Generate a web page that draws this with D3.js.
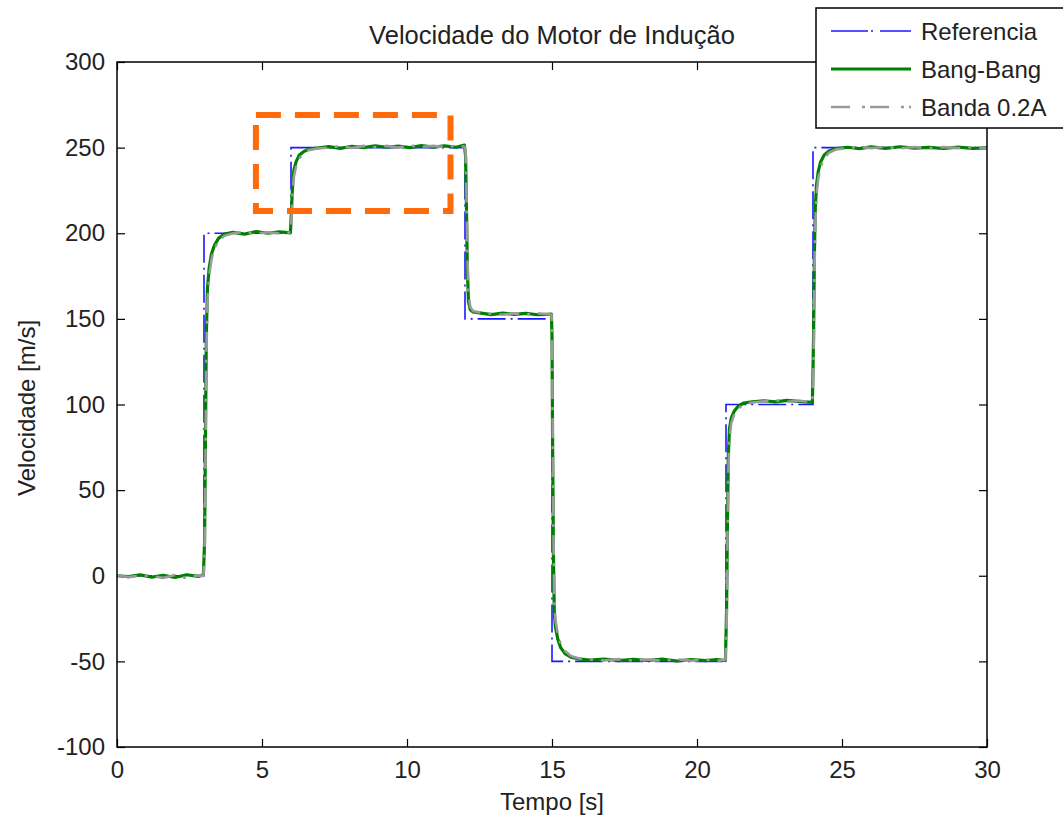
<!DOCTYPE html>
<html>
<head>
<meta charset="utf-8">
<script src="https://cdn.jsdelivr.net/npm/d3@7"></script>
<style>
  body { margin: 0; background: #fff; }
  svg { display: block; font-family: "Liberation Sans", Arial, sans-serif; }
</style>
</head>
<body>
<div class="chart"></div>
<script>
const width = 1063
const height = 822
const margin = { left: 117, right: 76, top: 62, bottom: 75 }

// reference speed (step profile)
const refTime = [0, 3, 6, 12, 15, 21, 24, 30]
const refSpeed = [0, 200, 250, 150, -50, 100, 250, 250]

// simulation time, shared by both controllers
const simTime = [
  0, 0.4, 0.8, 1.2, 1.6, 2.0, 2.4, 2.8, 2.98,
  3.02, 3.05, 3.08, 3.12, 3.18, 3.26, 3.36, 3.5, 3.7,
  4.0, 4.4, 4.8, 5.2, 5.6, 5.98,
  6.02, 6.06, 6.1, 6.18, 6.28, 6.42, 6.6, 6.9,
  7.3, 7.7, 8.1, 8.5, 8.9, 9.3, 9.7, 10.1, 10.5, 10.9, 11.3, 11.7, 11.98,
  12.02, 12.05, 12.08, 12.12, 12.18, 12.28,
  12.5, 12.9, 13.3, 13.7, 14.1, 14.5, 14.98,
  15.0, 15.02, 15.05, 15.08, 15.12, 15.2, 15.3, 15.45, 15.65, 15.9,
  16.3, 16.8, 17.3, 17.8, 18.3, 18.8, 19.3, 19.8, 20.3, 20.7, 20.98,
  21.02, 21.05, 21.08, 21.12, 21.18, 21.28, 21.42, 21.6,
  21.9, 22.3, 22.7, 23.1, 23.5, 23.98,
  24.02, 24.05, 24.08, 24.12, 24.18, 24.26, 24.38, 24.55, 24.8,
  25.2, 25.6, 26, 26.5, 27, 27.5, 28, 28.5, 29, 29.5, 30
]

const bangBang = [
  0, -0.5, 0.5, -0.8, 0.3, -1.0, 0.6, -0.4, 0.5,
  20, 80, 140, 168, 180, 188, 193, 197, 199.5,
  200.5, 199.5, 201, 200, 200.8, 200.2,
  215, 230, 237, 242, 245.5, 247.5, 249, 249.8,
  250.6, 249.6, 250.8, 250, 251, 250.2, 250.9, 250, 251.2, 250.3, 251, 250.2, 251.5,
  245, 215, 180, 160, 155.5, 154,
  153.5, 152.5, 153.4, 152.6, 153.2, 152.4, 152.8,
  140, 80, 10, -22, -30, -37, -42, -45.5, -47.5, -48.5,
  -49.2, -48.6, -49.6, -48.8, -49.5, -48.7, -49.8, -48.9, -49.6, -49, -49.5,
  -20, 30, 70, 86, 92, 96, 99, 100.8,
  101.6, 102.2, 101.5, 102.4, 101.8, 101.2,
  140, 190, 215, 228, 236, 241.5, 245.5, 248, 249.5,
  250.2, 249.4, 250.4, 249.6, 250.5, 249.7, 250.2, 249.5, 250.3, 249.6, 249.9
]

const banda = [
  0.3, -0.8, 0.2, -0.3, -1.2, 0.4, -1.5, 0.2, 0,
  12, 65, 128, 160, 175, 185, 191, 195.5, 198.5,
  200, 200.8, 199.8, 200.6, 199.9, 200.5,
  210, 225, 233, 239.5, 243.5, 246.5, 248.5, 249.5,
  250, 250.8, 249.8, 251, 250.2, 251, 250, 251.2, 250.4, 251, 250.3, 251.2, 250.6,
  248, 225, 190, 165, 157, 154.5,
  153.8, 153, 152.4, 153.2, 152.5, 153.3, 152.5,
  148, 95, 25, -15, -26, -34, -40, -44, -46.8, -48.2,
  -48.8, -49.5, -48.7, -49.6, -48.9, -49.7, -48.8, -49.6, -48.9, -49.7, -49,
  -30, 20, 60, 80, 89, 94, 97.5, 100,
  101.2, 101.8, 102.5, 101.6, 102.2, 101.5,
  125, 175, 205, 222, 232, 238.5, 243.5, 247, 249,
  249.8, 250.6, 249.6, 250.5, 249.5, 250.4, 249.6, 250.4, 249.7, 250.3, 249.6
]

const xTicks = [0, 5, 10, 15, 20, 25, 30]
const yTicks = [-100, -50, 0, 50, 100, 150, 200, 250, 300]
const legendLabels = ['Referencia', 'Bang-Bang', 'Banda 0.2A']

const x0 = margin.left
const x1 = width - margin.right
const y0 = height - margin.bottom
const y1 = margin.top

const xScale = d3.scaleLinear().domain([0, 30]).range([x0, x1])
const yScale = d3.scaleLinear().domain([-100, 300]).range([y0, y1])

const svg = d3.select('.chart')
  .append('svg')
  .attr('width', width)
  .attr('height', height)

svg.append('defs').append('clipPath')
  .attr('id', 'plot-clip')
  .append('rect')
  .attr('x', x0).attr('y', y1)
  .attr('width', x1 - x0).attr('height', y0 - y1)

// axes, matlab style: ticks inside, mirrored on top / right
const fontSize = 24
const plain = d => String(d)   // keep the ascii hyphen in "-100"

svg.append('g')
  .attr('transform', `translate(0, ${y0})`)
  .call(d3.axisBottom(xScale).tickValues(xTicks).tickFormat(plain).tickSize(-8).tickSizeOuter(0).tickPadding(14))
svg.append('g')
  .attr('transform', `translate(0, ${y1})`)
  .call(d3.axisTop(xScale).tickValues(xTicks).tickSize(-8).tickSizeOuter(0).tickFormat(''))

svg.append('g')
  .attr('transform', `translate(${x0}, 0)`)
  .call(d3.axisLeft(yScale).tickValues(yTicks).tickFormat(plain).tickSize(-8).tickSizeOuter(0).tickPadding(12))
svg.append('g')
  .attr('transform', `translate(${x1}, 0)`)
  .call(d3.axisRight(yScale).tickValues(yTicks).tickSize(-8).tickSizeOuter(0).tickFormat(''))

svg.selectAll('.domain').remove()
svg.selectAll('.tick line').attr('stroke', '#000').attr('stroke-width', 1.2)
svg.selectAll('.tick text')
  .attr('fill', '#222')
  .style('font-size', fontSize + 'px')
  .style('font-family', '"Liberation Sans", Arial, sans-serif')

// series
const plot = svg.append('g').attr('clip-path', 'url(#plot-clip)')

const refLine = d3.line()
  .x((_, i) => xScale(refTime[i]))
  .y(d => yScale(d))
  .curve(d3.curveStepAfter)

const simLine = d3.line()
  .x((_, i) => xScale(simTime[i]))
  .y(d => yScale(d))

plot.append('path')
  .datum(refSpeed)
  .attr('d', refLine)
  .attr('fill', 'none')
  .attr('stroke', '#1a1aff')
  .attr('stroke-width', 1.6)
  .attr('stroke-dasharray', '28,5,2,5')

plot.append('path')
  .datum(bangBang)
  .attr('d', simLine)
  .attr('fill', 'none')
  .attr('stroke', '#008000')
  .attr('stroke-width', 3.2)
  .attr('stroke-linejoin', 'round')

plot.append('path')
  .datum(banda)
  .attr('d', simLine)
  .attr('fill', 'none')
  .attr('stroke', '#9a9a9a')
  .attr('stroke-width', 2.6)
  .attr('stroke-dasharray', '20,8,3,8')

// frame
svg.append('rect')
  .attr('x', x0).attr('y', y1)
  .attr('width', x1 - x0).attr('height', y0 - y1)
  .attr('fill', 'none')
  .attr('stroke', '#000')
  .attr('stroke-width', 1.5)

// highlight box
svg.append('rect')
  .attr('x', xScale(4.79)).attr('y', yScale(269))
  .attr('width', xScale(11.5) - xScale(4.79))
  .attr('height', yScale(213) - yScale(269))
  .attr('fill', 'none')
  .attr('stroke', '#ff6a0a')
  .attr('stroke-width', 6)
  .attr('stroke-dasharray', '25,14')

// titles
svg.append('text')
  .attr('x', (x0 + x1) / 2)
  .attr('y', 44)
  .attr('text-anchor', 'middle')
  .style('font-size', '25.5px')
  .attr('fill', '#222')
  .text('Velocidade do Motor de Indução')

svg.append('text')
  .attr('x', (x0 + x1) / 2)
  .attr('y', 810)
  .attr('text-anchor', 'middle')
  .style('font-size', fontSize + 'px')
  .attr('fill', '#222')
  .text('Tempo [s]')

svg.append('text')
  .attr('transform', 'rotate(-90)')
  .attr('x', -408)
  .attr('y', 35)
  .attr('text-anchor', 'middle')
  .style('font-size', fontSize + 'px')
  .attr('fill', '#222')
  .text('Velocidade [m/s]')

// legend
const legend = svg.append('g')
legend.append('rect')
  .attr('x', 816).attr('y', 8)
  .attr('width', 270).attr('height', 120)
  .attr('fill', '#fff')
  .attr('stroke', '#000')
  .attr('stroke-width', 1.5)

const legendStyles = [
  { color: '#1a1aff', w: 1.6, dash: '37,3,2,7' },
  { color: '#008000', w: 3.2, dash: null },
  { color: '#9a9a9a', w: 2.6, dash: '19,12,3,5' }
]
const legendY = [31, 69, 107]

legendLabels.forEach((label, i) => {
  legend.append('line')
    .attr('x1', 831).attr('x2', 911)
    .attr('y1', legendY[i]).attr('y2', legendY[i])
    .attr('stroke', legendStyles[i].color)
    .attr('stroke-width', legendStyles[i].w)
    .attr('stroke-dasharray', legendStyles[i].dash)
  legend.append('text')
    .attr('x', 921)
    .attr('y', legendY[i] + 9)
    .style('font-size', fontSize + 'px')
    .attr('fill', '#222')
    .text(label)
})
</script>
</body>
</html>
